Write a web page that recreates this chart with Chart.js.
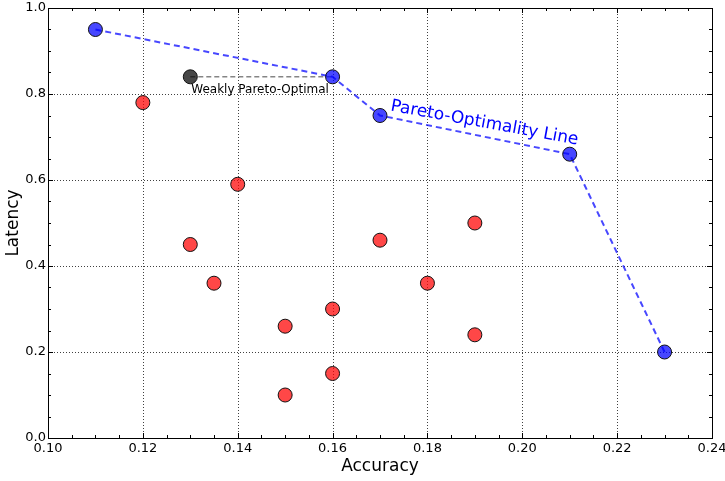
<!DOCTYPE html>
<html><head><meta charset="utf-8">
<script src="https://cdn.jsdelivr.net/npm/chart.js@4.4.1/dist/chart.umd.min.js"></script>
<style>html,body{margin:0;padding:0;background:#fff}#wrap{width:725px;height:481px}</style>
</head><body><div id="wrap"><canvas id="c" width="725" height="481"></canvas></div>
<script>
const paretoAcc = [0.11, 0.16, 0.17, 0.21, 0.23];
const paretoLat = [0.95, 0.84, 0.75, 0.66, 0.20];
const weakAcc = [0.13, 0.16];
const weakLat = [0.84, 0.84];
const otherAcc = [0.12, 0.14, 0.13, 0.135, 0.15, 0.15, 0.16, 0.16, 0.17, 0.18, 0.19, 0.19];
const otherLat = [0.78, 0.59, 0.45, 0.36, 0.26, 0.10, 0.30, 0.15, 0.46, 0.36, 0.50, 0.24];
const xTicks = [0.10, 0.12, 0.14, 0.16, 0.18, 0.20, 0.22, 0.24];
const yTicks = [0.0, 0.2, 0.4, 0.6, 0.8, 1.0];

const pts = (xs, ys) => xs.map((x, i) => ({x: x, y: ys[i]}));
const FONT = "'DejaVu Sans', sans-serif";

const decor = {
  id: 'decor',
  beforeDatasetsDraw(chart) {
    const {ctx, chartArea: a, scales: {x, y}} = chart;
    ctx.save();
    ctx.strokeStyle = 'rgba(0,0,0,0.75)';
    ctx.lineWidth = 1;
    ctx.setLineDash([1, 2]);
    xTicks.forEach(v => {
      const px = Math.round(x.getPixelForValue(v)) + 0.5;
      ctx.beginPath(); ctx.moveTo(px, a.top); ctx.lineTo(px, a.bottom); ctx.stroke();
    });
    yTicks.forEach(v => {
      const py = Math.round(y.getPixelForValue(v)) + 0.5;
      ctx.beginPath(); ctx.moveTo(a.left, py); ctx.lineTo(a.right, py); ctx.stroke();
    });
    ctx.setLineDash([]);
    ctx.strokeStyle = '#000';
    for (let k = 0; k <= 28; k++) {
      const v = 0.10 + k * 0.005;
      const len = (k % 4 === 0) ? 5 : 3;
      const px = Math.round(x.getPixelForValue(v)) + 0.5;
      ctx.beginPath();
      ctx.moveTo(px, a.bottom); ctx.lineTo(px, a.bottom - len);
      ctx.moveTo(px, a.top); ctx.lineTo(px, a.top + len);
      ctx.stroke();
    }
    for (let k = 0; k <= 20; k++) {
      const v = k * 0.05;
      const len = (k % 4 === 0) ? 5 : 3;
      const py = Math.round(y.getPixelForValue(v)) + 0.5;
      ctx.beginPath();
      ctx.moveTo(a.left, py); ctx.lineTo(a.left + len, py);
      ctx.moveTo(a.right, py); ctx.lineTo(a.right - len, py);
      ctx.stroke();
    }
    ctx.lineWidth = 1;
    ctx.strokeRect(Math.round(a.left) + 0.5, Math.round(a.top) + 0.5,
                   Math.round(a.right - a.left), Math.round(a.bottom - a.top));
    ctx.restore();
  },
  afterDatasetsDraw(chart) {
    const {ctx, scales: {x, y}} = chart;
    ctx.save();
    ctx.fillStyle = '#000';
    ctx.font = '12px ' + FONT;
    ctx.textAlign = 'left';
    ctx.textBaseline = 'alphabetic';
    ctx.fillText('Weakly Pareto-Optimal', x.getPixelForValue(0.1302), y.getPixelForValue(0.8) - 1);
    ctx.translate(x.getPixelForValue(0.1721), y.getPixelForValue(0.7616));
    ctx.rotate(10.3 * Math.PI / 180);
    ctx.fillStyle = '#0000ff';
    ctx.font = '17px ' + FONT;
    ctx.fillText('Pareto-Optimality Line', 0, 0);
    ctx.restore();
  }
};

new Chart(document.getElementById('c'), {
  type: 'scatter',
  data: {
    datasets: [
      {
        data: pts(paretoAcc, paretoLat),
        showLine: true,
        borderColor: 'rgba(0,0,255,0.72)',
        borderWidth: 2,
        borderDash: [6, 4],
        pointRadius: 7,
        pointBorderWidth: 1,
        pointBackgroundColor: 'rgba(0,0,255,0.72)',
        pointBorderColor: '#111',
        fill: false
      },
      {
        data: pts(weakAcc, weakLat),
        showLine: true,
        borderColor: 'rgba(120,120,120,0.9)',
        borderWidth: 1.5,
        borderDash: [5, 3],
        pointRadius: [7, 0],
        pointBorderWidth: 1,
        pointBackgroundColor: 'rgba(0,0,0,0.72)',
        pointBorderColor: '#111',
        fill: false
      },
      {
        data: pts(otherAcc, otherLat),
        pointRadius: 7,
        pointBorderWidth: 1,
        pointBackgroundColor: 'rgba(255,0,0,0.72)',
        pointBorderColor: '#111'
      }
    ]
  },
  options: {
    responsive: false,
    animation: false,
    events: [],
    layout: {padding: {top: 6, right: 13, bottom: 0, left: 0}},
    plugins: {legend: {display: false}, tooltip: {enabled: false}},
    scales: {
      x: {
        type: 'linear', min: 0.10, max: 0.24,
        afterBuildTicks: s => { s.ticks = xTicks.map(v => ({value: v})); },
        afterFit: s => { s.height = 43; s.paddingLeft = 0; s.paddingRight = 0; },
        grid: {display: false, drawTicks: false},
        border: {display: false},
        ticks: {padding: 3, color: '#000', font: {family: FONT, size: 13}, maxRotation: 0, autoSkip: false,
                callback: v => v.toFixed(2)},
        title: {display: true, text: 'Accuracy', color: '#000', font: {family: FONT, size: 17}, padding: {top: 0, bottom: 4}}
      },
      y: {
        type: 'linear', min: 0, max: 1,
        afterBuildTicks: s => { s.ticks = yTicks.map(v => ({value: v})); },
        afterFit: s => { s.width = 48; s.paddingTop = 0; s.paddingBottom = 0; },
        grid: {display: false, drawTicks: false},
        border: {display: false},
        ticks: {padding: 2, color: '#000', font: {family: FONT, size: 13}, autoSkip: false,
                callback: v => v.toFixed(1)},
        title: {display: true, text: 'Latency', color: '#000', font: {family: FONT, size: 17}, padding: {top: 3, bottom: 0}}
      }
    }
  },
  plugins: [decor]
});
</script></body></html>
